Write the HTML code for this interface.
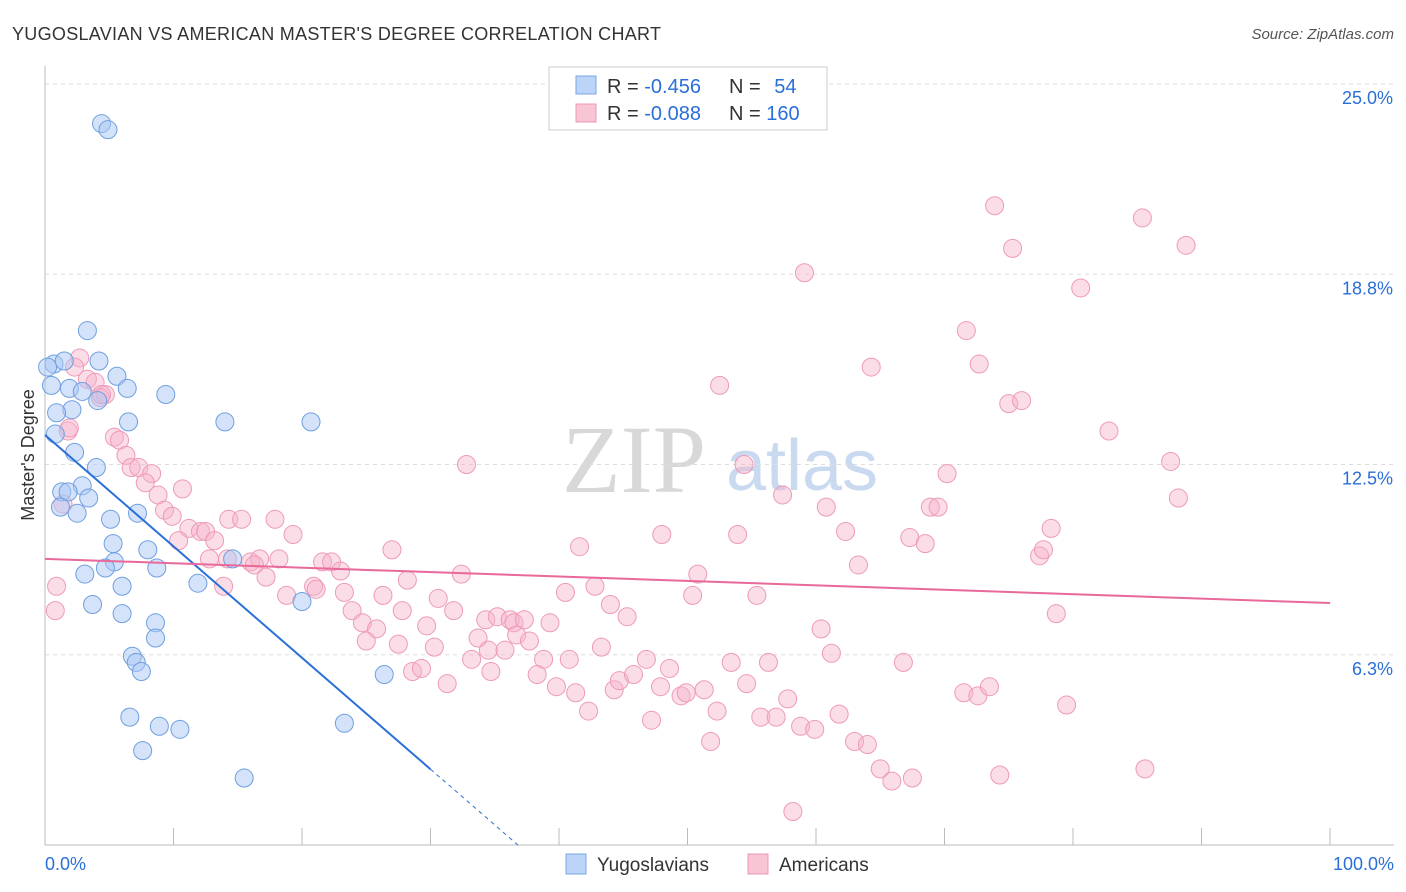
<!DOCTYPE html>
<html><head><meta charset="utf-8">
<style>
body{margin:0;background:#fff;font-family:"Liberation Sans",sans-serif;}
svg{display:block}
</style></head>
<body>
<svg id="chart" width="1406" height="892" xmlns="http://www.w3.org/2000/svg">
<text x="12" y="40" font-size="18" fill="#333" textLength="649">YUGOSLAVIAN VS AMERICAN MASTER'S DEGREE CORRELATION CHART</text>
<text x="1394" y="39" font-size="15" fill="#555" font-style="italic" text-anchor="end">Source: ZipAtlas.com</text>
<text x="634" y="492" font-size="96" fill="#d8d8d8" font-family="Liberation Serif,serif" text-anchor="middle">ZIP</text>
<text x="802" y="490" font-size="72" fill="#c9d9f0" text-anchor="middle">atlas</text>
<g id="grid"></g>
<g id="axes"></g>
<g id="pts"></g>
<g id="lines"></g>
<text transform="translate(34,455) rotate(-90)" font-size="18" fill="#333" text-anchor="middle">Master's Degree</text>
<g>
<rect x="549" y="67" width="278" height="63" fill="#fff" stroke="#ccc"/>
<rect x="576" y="76" width="20" height="18" fill="#bcd4f7" stroke="#7aa6e4"/>
<rect x="576" y="104" width="20" height="18" fill="#f8c5d5" stroke="#ee97b5"/>
<text x="607" y="93" font-size="20" fill="#333">R = <tspan fill="#2a6fd8">-0.456</tspan></text>
<text x="729" y="93" font-size="20" fill="#333">N = <tspan fill="#2a6fd8" dx="8">54</tspan></text>
<text x="607" y="120" font-size="20" fill="#333">R = <tspan fill="#2a6fd8">-0.088</tspan></text>
<text x="729" y="120" font-size="20" fill="#333">N = <tspan fill="#2a6fd8">160</tspan></text>
</g>
<g>
<rect x="566" y="854" width="20" height="20" fill="#bcd4f7" stroke="#7aa6e4"/>
<text x="597" y="871" font-size="19" fill="#333">Yugoslavians</text>
<rect x="748" y="854" width="20" height="20" fill="#f8c5d5" stroke="#ee97b5"/>
<text x="779" y="871" font-size="19" fill="#333">Americans</text>
</g>
</svg>
<script>
const yTicks=[6.25,12.5,18.75,25];
const yTickLabels=["6.3%","12.5%","18.8%","25.0%"];
const xTicks=[0,10,20,30,40,50,60,70,80,90,100];
const blueX=[4.4,4.9,3.3,0.7,0.2,1.5,4.2,0.5,1.9,2.9,5.6,6.4,9.4,4.1,2.1,0.9,6.5,14.0,20.7,0.8,2.3,4.0,2.9,1.3,1.8,3.4,1.2,2.5,5.1,7.2,5.3,8.0,5.4,4.7,8.7,3.1,11.9,6.0,14.6,3.7,6.0,8.6,8.6,6.8,7.1,7.5,26.4,6.6,8.9,10.5,23.3,7.6,15.5,20.0];
const blueY=[23.7,23.5,16.9,15.8,15.7,15.9,15.9,15.1,15.0,14.9,15.4,15.0,14.8,14.6,14.3,14.2,13.9,13.9,13.9,13.5,12.9,12.4,11.8,11.6,11.6,11.4,11.1,10.9,10.7,10.9,9.9,9.7,9.3,9.1,9.1,8.9,8.6,8.5,9.4,7.9,7.6,7.3,6.8,6.2,6.0,5.7,5.6,4.2,3.9,3.8,4.0,3.1,2.2,8.0];
const pinkX=[2.7,2.3,3.3,3.9,4.7,4.3,1.8,5.4,5.8,6.3,6.7,7.3,8.3,7.8,8.8,10.7,9.3,9.9,11.2,12.1,10.4,12.5,14.3,15.3,17.9,19.3,13.2,12.8,14.2,16.0,16.7,16.3,18.2,21.6,22.3,13.9,17.2,18.8,20.9,21.1,23.0,23.3,27.0,28.2,32.4,32.8,41.6,42.8,40.5,26.3,30.6,31.8,27.8,23.9,24.7,25.8,25.0,27.5,29.7,30.3,33.2,34.3,35.2,36.2,36.5,37.3,39.3,33.7,34.5,35.8,36.7,37.7,38.8,40.8,43.3,45.3,44.0,28.6,29.3,31.3,34.7,38.3,39.8,41.3,42.3,44.3,44.7,45.8,46.8,48.6,47.9,49.5,49.9,51.3,52.3,47.2,51.8,53.4,54.6,56.3,55.7,56.9,57.8,58.8,59.9,61.8,63.0,64.0,61.2,60.4,55.4,50.4,50.8,48.0,52.5,54.4,53.9,57.4,59.1,60.8,62.3,63.3,64.3,65.0,65.9,67.5,66.8,71.7,72.7,73.9,75.3,75.0,76.0,70.2,68.9,69.5,67.3,68.5,71.5,72.6,73.5,74.3,77.4,77.7,78.3,78.7,79.5,80.6,82.8,85.4,87.6,88.2,88.8,85.6,58.2,0.8,0.9,1.4,1.9,4.4];
const pinkY=[16.0,15.7,15.3,15.2,14.8,14.7,13.6,13.4,13.3,12.8,12.4,12.4,12.2,11.9,11.5,11.7,11.0,10.8,10.4,10.3,10.0,10.3,10.7,10.7,10.7,10.2,10.0,9.4,9.4,9.3,9.4,9.2,9.4,9.3,9.3,8.5,8.8,8.2,8.5,8.4,9.0,8.3,9.7,8.7,8.9,12.5,9.8,8.5,8.3,8.2,8.1,7.7,7.7,7.7,7.3,7.1,6.7,6.6,7.2,6.5,6.1,7.4,7.5,7.4,7.3,7.4,7.3,6.8,6.4,6.4,6.9,6.7,6.1,6.1,6.5,7.5,7.9,5.7,5.8,5.3,5.7,5.6,5.2,5.0,4.4,5.1,5.4,5.6,6.1,5.8,5.2,4.9,5.0,5.1,4.4,4.1,3.4,6.0,5.3,6.0,4.2,4.2,4.8,3.9,3.8,4.3,3.4,3.3,6.3,7.1,8.2,8.2,8.9,10.2,15.1,12.5,10.2,11.5,18.8,11.1,10.3,9.2,15.7,2.5,2.1,2.2,6.0,16.9,15.8,21.0,19.6,14.5,14.6,12.2,11.1,11.1,10.1,9.9,5.0,4.9,5.2,2.3,9.5,9.7,10.4,7.6,4.6,18.3,13.6,20.6,12.6,11.4,19.7,2.5,1.1,7.7,8.5,11.2,13.7,14.8];
const blueFit=[13.47,-0.366]; // intercept, slope per % x
const pinkFit=[9.4,-0.0145];

const NS="http://www.w3.org/2000/svg";
const X0=45,X1=1330,Y0=845,Y25=84;
const sx=v=>X0+(X1-X0)*v/100;
const sy=v=>Y0-(Y0-Y25)*v/25;
function mk(tag,attrs,parent){const e=document.createElementNS(NS,tag);for(const k in attrs)e.setAttribute(k,attrs[k]);parent.appendChild(e);return e;}
const grid=document.getElementById('grid'),axes=document.getElementById('axes'),pts=document.getElementById('pts'),lines=document.getElementById('lines');
yTicks.forEach((t,i)=>{
 const l=mk('line',{x1:X0,x2:1394,y1:sy(t),y2:sy(t),stroke:'#ddd','stroke-dasharray':'4,4'},grid);
 
 
 const tx=mk('text',{x:1393,y:sy(t)+20,'font-size':18,fill:'#2a6fd8','text-anchor':'end'},axes);
 tx.textContent=yTickLabels[i];
 
 
});
const ax=mk('line',{x1:X0,x2:X0,y1:66,y2:Y0,stroke:'#bbb'},axes);


const bx=mk('line',{x1:X0,x2:1394,y1:Y0,y2:Y0,stroke:'#bbb'},axes);


xTicks.forEach(t=>{
 const l=mk('line',{x1:sx(t),x2:sx(t),y1:828,y2:Y0,stroke:'#bbb'},axes);
 
 
});
const xl=mk('text',{x:45,y:870,'font-size':18,fill:'#2a6fd8'},axes);xl.textContent='0.0%';


const xr=mk('text',{x:1394,y:870,'font-size':18,fill:'#2a6fd8','text-anchor':'end'},axes);xr.textContent='100.0%';


pinkX.forEach((x,i)=>{
 const c=mk('circle',{cx:sx(x),cy:sy(pinkY[i]),r:9,fill:'rgba(246,180,203,0.45)',stroke:'#ee9ab8','stroke-width':1},pts);
 
 
});
blueX.forEach((x,i)=>{
 const c=mk('circle',{cx:sx(x),cy:sy(blueY[i]),r:9,fill:'rgba(169,200,245,0.5)',stroke:'#6f9fe0','stroke-width':1},pts);
 
 
});
const bf=x=>blueFit[0]+blueFit[1]*x;
const b1=mk('line',{x1:sx(0),y1:sy(bf(0)),x2:sx(30),y2:sy(bf(30)),stroke:'#2a6fd8','stroke-width':2},lines);


const xEnd=-blueFit[0]/blueFit[1];
const b2=mk('line',{x1:sx(30),y1:sy(bf(30)),x2:sx(xEnd),y2:sy(0),stroke:'#2a6fd8','stroke-width':1,'stroke-dasharray':'4,4'},lines);


const pf=x=>pinkFit[0]+pinkFit[1]*x;
const p1=mk('line',{x1:sx(0),y1:sy(pf(0)),x2:sx(100),y2:sy(pf(100)),stroke:'#e8699a','stroke-width':2},lines);


</script>
</body></html>
